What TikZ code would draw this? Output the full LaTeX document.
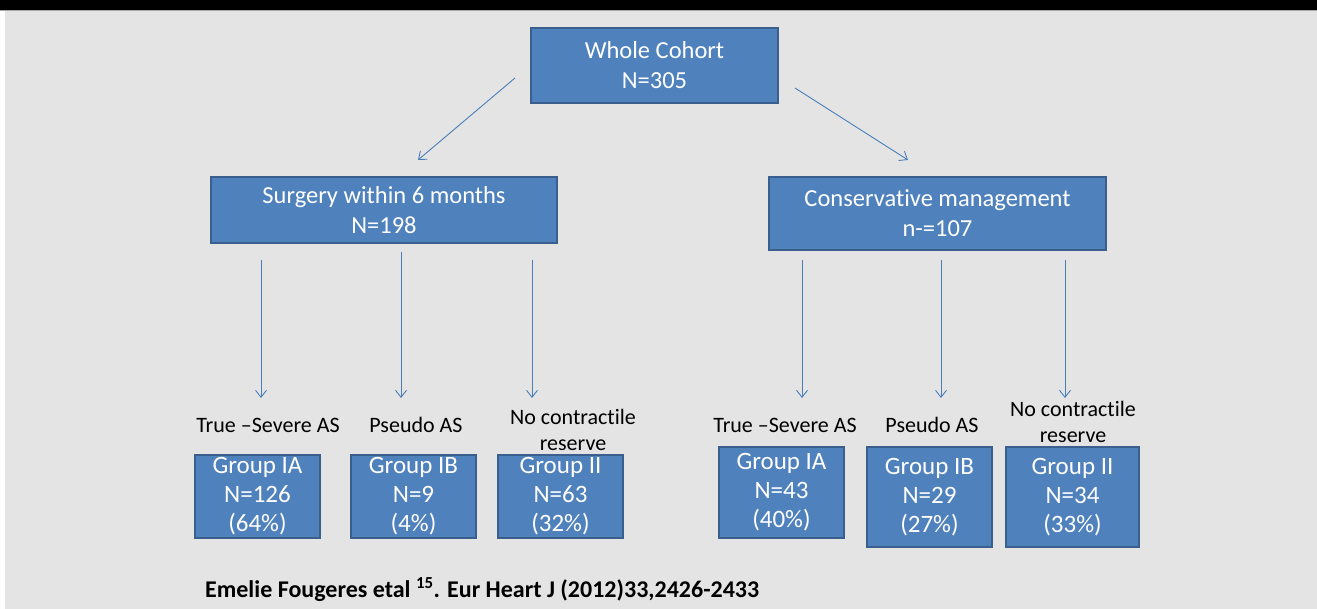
\documentclass[tikz,border=0pt]{standalone}
\usepackage{fontspec}
\setmainfont{Carlito}[Ligatures=NoCommon]
\usepackage{xcolor}
\usetikzlibrary{arrows.meta,positioning}
\definecolor{boxblue}{HTML}{4F81BD}
\definecolor{boxedge}{HTML}{3A5F8C}
\definecolor{arrblue}{HTML}{4A7EBB}
\definecolor{slidebg}{HTML}{E4E4E4}

\begin{document}
\begin{tikzpicture}[
			x=1pt,
			y=-1pt,
			box/.style={rectangle,fill=boxblue,draw=boxedge,line width=1.8pt,text=white,align=center,inner sep=0pt,font=\fontsize{24.5}{30}\selectfont},
			grp/.style={box,minimum width=125pt,font=\fontsize{25}{29}\selectfont},
			lbl/.style={align=center,inner sep=0pt,font=\fontsize{22}{26}\selectfont},
			arr/.style={draw=arrblue,line width=.9pt,-{Straight Barb[length=7pt,width=11pt]}}
			]
			
			\useasboundingbox (0,0) rectangle (1317,609);
			
			%------------------------------
			% Slide background
			%------------------------------
			\fill[white] (0,0) rectangle (1317,609);
			\fill[slidebg] (5,11) rectangle (1317,609);
			\fill[black] (0,0) rectangle (1317,10);
			\draw[gray!70, line width=.8pt] (0,10.6) -- (1317,10.6);
			
			%------------------------------
			% Boxes
			%------------------------------
			\node[box,minimum width=247pt,minimum height=75pt] (cohort) at (654.5,65.5) {Whole Cohort\\N=305};
			\node[box,minimum width=346pt,minimum height=66pt] (surgery) at (384,210) {Surgery within 6 months\\N=198};
			\node[box,minimum width=337pt,minimum height=73pt] (conserv) at (937.5,213.5) {Conservative management\\n-=107};
			
			\node[grp,minimum height=83pt] (sIA) at (257.5,496.5) {Group IA\\N=126\\(64\%)};
			\node[grp,minimum height=83pt] (sIB) at (413.5,496.5) {Group IB\\N=9\\(4\%)};
			\node[grp,minimum height=83pt] (sII) at (560.5,496.5) {Group II\\N=63\\(32\%)};
			
			\node[grp,minimum height=91pt] (cIA) at (781.5,492.5) {Group IA\\N=43\\(40\%)};
			\node[grp,minimum height=100pt] (cIB) at (929.5,497) {Group IB\\N=29\\(27\%)};
			\node[grp,minimum width=133pt,minimum height=100pt] (cII) at (1072.5,497) {Group II\\N=34\\(33\%)};
			
			%------------------------------
			% Labels above the groups
			%------------------------------
			\node[lbl] (lsIA) at (268,425) {True –Severe AS};
			\node[lbl] (lsIB) at (416,425) {Pseudo AS};
			\node[lbl] (lsII) at (573,430) {No contractile\\reserve};
			\node[lbl] (lcIA) at (785,425) {True –Severe AS};
			\node[lbl] (lcIB) at (932,425) {Pseudo AS};
			\node[lbl] (lcII) at (1073,422) {No contractile\\reserve};
			
			%------------------------------
			% Arrows
			%------------------------------
			\coordinate (toL) at (515,78);
			\coordinate (toLe) at (418,160);
			\coordinate (toR) at (795,88);
			\coordinate (toRe) at (908,160);
			\draw[arr] (toL) -- (toLe);
			\draw[arr] (toR) -- (toRe);
			
			\foreach \name/\xx/\ya in {sa/261/260,sb/401/252,sc/532/260,ca/802/260,cb/941/260,cc/1065/260}{
				\coordinate (\name top) at (\xx,\ya);
				\coordinate (\name end) at (\xx,398);
				\draw[arr] (\name top) -- (\name end);
			}
			
			%------------------------------
			% Reference
			%------------------------------
			\node[anchor=west,inner sep=0pt,font=\fontsize{24}{28}\selectfont\bfseries] (cite) at (205,590) {Emelie Fougeres etal \textsuperscript{15}. Eur Heart J (2012)33,2426-2433};
		\end{tikzpicture}
\end{document}
